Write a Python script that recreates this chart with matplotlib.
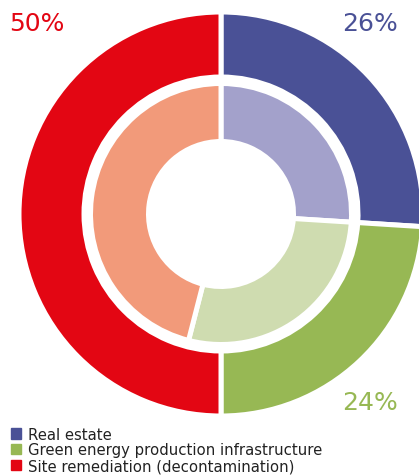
import matplotlib.pyplot as plt
from matplotlib.patches import Patch

labels = ["Real estate", "Green energy production infrastructure", "Site remediation (decontamination)"]
outer_vals = [26, 24, 50]
inner_vals = [26, 28, 46]
outer_cols = ["#4A5196", "#97B854", "#E30613"]
inner_cols = ["#A3A1CB", "#CFDCB0", "#F29A7A"]

plt.rcParams['font.family'] = ['DejaVu Sans']

fig = plt.figure(figsize=(4.19, 4.77), dpi=100)
ax = fig.add_axes([0, 0, 1, 1])

cx, cy = 221, 262

ax.pie(outer_vals, colors=outer_cols, startangle=90, counterclock=False,
       center=(cx, cy), radius=202, frame=True,
       wedgeprops=dict(width=65, edgecolor='white', linewidth=3.6))
ax.pie(inner_vals, colors=inner_cols, startangle=90, counterclock=False,
       center=(cx, cy), radius=130.5, frame=True,
       wedgeprops=dict(width=58, edgecolor='white', linewidth=3.6))
ax.set_xlim(0, 419)
ax.set_ylim(0, 477)
ax.set_aspect('equal')
ax.axis('off')

# percentage labels (outer ring)
ax.text(9, 446, f"{outer_vals[2]}%", color=outer_cols[2], fontsize=18,
        ha='left', va='baseline')
ax.text(398, 446, f"{outer_vals[0]}%", color=outer_cols[0], fontsize=18,
        ha='right', va='baseline')
ax.text(398, 67, f"{outer_vals[1]}%", color=outer_cols[1], fontsize=18,
        ha='right', va='baseline')

handles = [Patch(color=c) for c in outer_cols]
fig.legend(handles, labels, loc='lower left', bbox_to_anchor=(0.003, -0.014),
           frameon=False, fontsize=10.7, handlelength=0.7, handleheight=0.7,
           handletextpad=0.45, labelspacing=0.05, borderaxespad=0.25, labelcolor='#222222')

fig.savefig("out.png", dpi=100)
